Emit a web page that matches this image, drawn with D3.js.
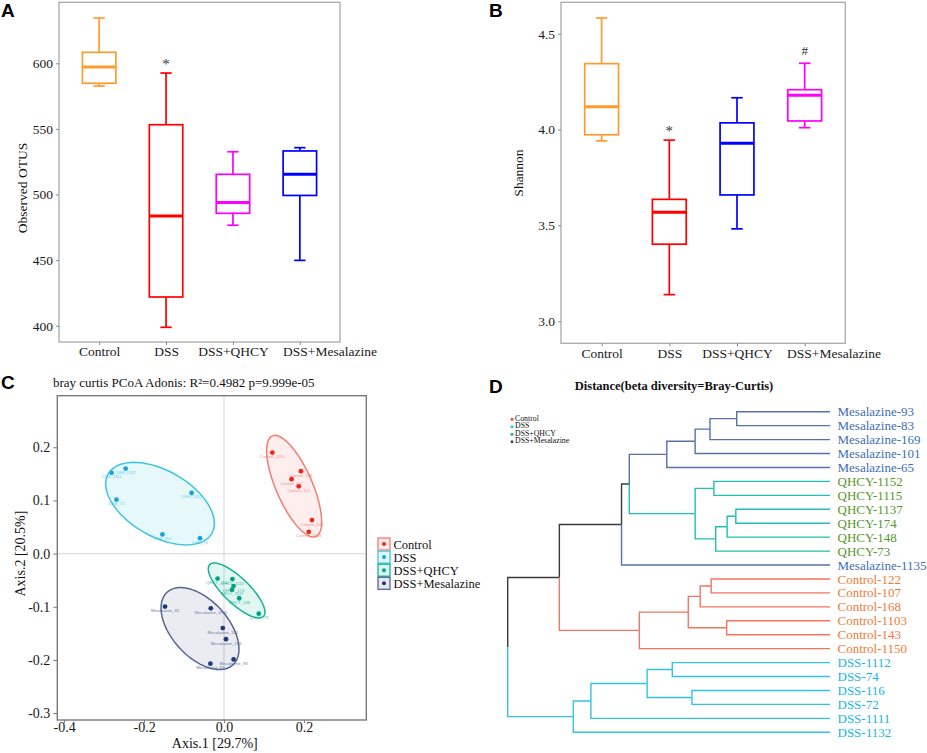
<!DOCTYPE html>
<html>
<head>
<meta charset="utf-8">
<script src="https://cdn.jsdelivr.net/npm/d3@7"></script>
<style>
  body { margin: 0; background: #fff; }
  svg { display: block; }
</style>
</head>
<body>
<svg id="fig" width="927" height="753"></svg>
<script>
// ---- data ----
const groups = ["Control", "DSS", "DSS+QHCY", "DSS+Mesalazine"];

// five-number summaries: [min, q1, median, q3, max]
const otuStats = [
  [582.7, 584.8, 597.2, 608.4, 634.5],
  [398.8, 421.9, 483.6, 553.2, 592.6],
  [476.6, 485.7, 493.9, 515.4, 532.6],
  [449.8, 499.3, 515.4, 533.2, 535.7]
];
const otuTicks = [400, 450, 500, 550, 600];
const otuMarks = ["", "*", "", ""];

const shannonStats = [
  [3.941, 3.973, 4.119, 4.344, 4.582],
  [3.139, 3.402, 3.569, 3.636, 3.945],
  [3.482, 3.659, 3.929, 4.035, 4.166],
  [4.010, 4.045, 4.179, 4.208, 4.346]
];
const shannonTicks = [3.0, 3.5, 4.0, 4.5];
const shannonMarks = ["", "*", "", "#"];

// PCoA coordinates [axis1, axis2, sample]
const pcoaControl = [
  [0.121, 0.190, "Control_1150"], [0.1925, 0.155, "Control_168"], [0.169, 0.140, "Control_107"],
  [0.187, 0.1265, "Control_122"], [0.220, 0.063, "Control_143"], [0.212, 0.041, "Control_1103"]
];
const pcoaDSS = [
  [-0.281, 0.152, "DSS_1111"], [-0.246, 0.160, "DSS_1132"], [-0.269, 0.1015, "DSS_72"],
  [-0.081, 0.114, "DSS_1112"], [-0.154, 0.036, "DSS_116"], [-0.060, 0.029, "DSS_74"]
];
const pcoaQHCY = [
  [-0.016, -0.047, "QHCY_1152"], [0.021, -0.048, "QHCY_1115"], [0.024, -0.061, "QHCY_174"],
  [0.020, -0.068, "QHCY_1137"], [0.038, -0.084, "QHCY_148"], [0.087, -0.113, "QHCY_73"]
];
const pcoaMes = [
  [-0.1475, -0.0996, "Mesalazine_65"], [-0.033, -0.103, "Mesalazine_1135"], [-0.003, -0.140, "Mesalazine_101"],
  [0.005, -0.161, "Mesalazine_169"], [0.024, -0.199, "Mesalazine_93"], [-0.034, -0.207, "Mesalazine_83"]
];
// ellipses: [centre x, centre y, half-width x, half-height y, correlation]
const ellipseParams = [
  [0.1755, 0.1268, 0.0688, 0.0956, -0.70],
  [-0.160, 0.094, 0.136, 0.0776, -0.48],
  [0.0316, -0.0694, 0.0709, 0.0517, -0.79],
  [-0.060, -0.141, 0.0975, 0.0771, -0.50]
];
const pcoaXTicks = [-0.4, -0.2, 0.0, 0.2];
const pcoaYTicks = [-0.3, -0.2, -0.1, 0.0, 0.1, 0.2];

// dendrogram (hclust style): strings are leaves, numbers point to earlier merges
const merges = [
  ["Mesalazine-93", "Mesalazine-83"],
  [0, "Mesalazine-169"],
  [1, "Mesalazine-101"],
  [2, "Mesalazine-65"],
  ["QHCY-1152", "QHCY-1115"],
  ["QHCY-1137", "QHCY-174"],
  [5, "QHCY-148"],
  [6, "QHCY-73"],
  [4, 7],
  [3, 8],
  [9, "Mesalazine-1135"],
  ["Control-122", "Control-107"],
  [11, "Control-168"],
  ["Control-1103", "Control-143"],
  [12, 13],
  [14, "Control-1150"],
  [10, 15],
  ["DSS-1112", "DSS-74"],
  ["DSS-116", "DSS-72"],
  [17, 18],
  [19, "DSS-1111"],
  [20, "DSS-1132"],
  [16, 21]
];
const mergeHeights = [0.204, 0.2625, 0.295, 0.357, 0.254, 0.206, 0.225, 0.250, 0.295, 0.439, 0.456,
  0.260, 0.284, 0.226, 0.310, 0.417, 0.592, 0.345, 0.302, 0.400, 0.523, 0.5615, 0.705];

// ---- styles ----
const serif = "'Liberation Serif','Times New Roman',serif";
const sans = "'Liberation Sans',Arial,sans-serif";
const otuColors = ["#FF9A2E", "#FF0000", "#FF00FF", "#0000FF"];
const shannonColors = ["#FF9A2E", "#FF0000", "#0000FF", "#FF00FF"];
const ellipseStroke = ["#F77B70", "#3CC6E0", "#12B393", "#55668F"];
const ellipseFill = ["#F8766D", "#3CC6E0", "#12B393", "#55668F"];
const pointColor = ["#F5231E", "#1BA3D6", "#00A383", "#1F3A78"];
const lineColor = { Mesalazine: "#5572A9", QHCY: "#22BFB2", Control: "#F47461", DSS: "#33C3E3" };
const labelColor = { Mesalazine: "#3E6DB5", QHCY: "#56982F", Control: "#F07C38", DSS: "#17B5E8" };

const svg = d3.select("#fig");

function panelLetter(t, x, y) {
  svg.append("text").attr("x", x).attr("y", y).text(t)
    .attr("font-family", sans).attr("font-weight", "bold").attr("font-size", 19).attr("fill", "#000");
}

// ---- box plots (A, B) ----
function boxPanel(p) {
  const g = svg.append("g");
  const x = d3.scalePoint().domain(groups).range([p.left, p.right]).padding(0.6);
  const y = d3.scaleLinear().domain(p.domain).range([p.bottom, p.top]);
  const bw = x.step() * 0.5;
  const cw = x.step() * 0.17;

  g.append("rect").attr("x", p.left).attr("y", p.top)
    .attr("width", p.right - p.left).attr("height", p.bottom - p.top)
    .attr("fill", "none").attr("stroke", "#a9a9a9").attr("stroke-width", 1.3);

  const ya = g.append("g").attr("transform", `translate(${p.left},0)`)
    .call(d3.axisLeft(y).tickValues(p.ticks).tickSize(3).tickFormat(p.fmt));
  ya.select(".domain").remove();
  const xa = g.append("g").attr("transform", `translate(0,${p.bottom})`)
    .call(d3.axisBottom(x).tickSize(3).tickPadding(p.xpad));
  xa.select(".domain").remove();
  [ya, xa].forEach(a => {
    a.attr("font-family", serif).attr("font-size", 13.5);
    a.selectAll("line").attr("stroke", "#8a8a8a");
    a.selectAll("text").attr("fill", "#1a1a1a");
  });
  // long category names are pushed right so they keep a gap from the previous one
  let prevEnd = -Infinity;
  xa.selectAll(".tick text").each(function (d) {
    const bb = this.getBBox();
    const left = x(d) + bb.x;
    const shift = Math.max(0, prevEnd + 14 - left);
    d3.select(this).attr("x", shift);
    prevEnd = left + shift + bb.width;
  });

  const box = g.selectAll(".box").data(p.stats).enter().append("g")
    .attr("stroke", (d, i) => p.colors[i]).attr("fill", "none").attr("stroke-width", 1.7);
  box.append("line")
    .attr("x1", (d, i) => x(groups[i])).attr("x2", (d, i) => x(groups[i]))
    .attr("y1", d => y(d[3])).attr("y2", d => y(d[4]));
  box.append("line")
    .attr("x1", (d, i) => x(groups[i])).attr("x2", (d, i) => x(groups[i]))
    .attr("y1", d => y(d[1])).attr("y2", d => y(d[0]));
  [0, 4].forEach(k => box.append("line")
    .attr("x1", (d, i) => x(groups[i]) - cw / 2).attr("x2", (d, i) => x(groups[i]) + cw / 2)
    .attr("y1", d => y(d[k])).attr("y2", d => y(d[k])));
  box.append("rect")
    .attr("x", (d, i) => x(groups[i]) - bw / 2).attr("width", bw)
    .attr("y", d => y(d[3])).attr("height", d => y(d[1]) - y(d[3]));
  box.append("line")
    .attr("x1", (d, i) => x(groups[i]) - bw / 2).attr("x2", (d, i) => x(groups[i]) + bw / 2)
    .attr("y1", d => y(d[2])).attr("y2", d => y(d[2])).attr("stroke-width", 3);

  g.selectAll(".mark").data(p.marks).enter().append("text")
    .attr("x", (d, i) => x(groups[i]))
    .attr("y", (d, i) => y(p.stats[i][4]) - (d === "*" ? 4 : 8))
    .attr("text-anchor", "middle").attr("font-family", serif)
    .attr("font-size", d => d === "*" ? 15 : 13)
    .attr("fill", "#333").text(d => d);

  g.append("text")
    .attr("transform", `translate(${p.ylabX},${p.ylabY}) rotate(-90)`)
    .attr("text-anchor", "middle").attr("font-family", serif).attr("font-size", 13.5)
    .attr("fill", "#111").text(p.ylabel);
}

boxPanel({
  left: 59, right: 340, top: 2.3, bottom: 342,
  domain: [387.6, 646.5], ticks: otuTicks, fmt: d3.format("d"), xpad: 1,
  stats: otuStats, colors: otuColors, marks: otuMarks,
  ylabel: "Observed OTUS", ylabX: 27, ylabY: 188
});
boxPanel({
  left: 561, right: 845.3, top: 2.3, bottom: 343.3,
  domain: [2.885, 4.664], ticks: shannonTicks, fmt: d3.format(".1f"), xpad: 2,
  stats: shannonStats, colors: shannonColors, marks: shannonMarks,
  ylabel: "Shannon", ylabX: 523, ylabY: 173
});
panelLetter("A", 1, 17);
panelLetter("B", 489, 17);

// ---- PCoA (C) ----
(function () {
  const g = svg.append("g");
  const L = 57.3, R = 366.3, T = 395.7, B = 720;
  const x = d3.scaleLinear().domain([-0.417, 0.356]).range([L, R]);
  const y = d3.scaleLinear().domain([-0.313, 0.297]).range([B, T]);
  const fmt = d => (Math.abs(d) < 1e-9 ? 0 : d).toFixed(1);

  g.append("line").attr("x1", L).attr("x2", R).attr("y1", y(0)).attr("y2", y(0))
    .attr("stroke", "#dcdcdc").attr("stroke-width", 1.2);
  g.append("line").attr("x1", x(0)).attr("x2", x(0)).attr("y1", T).attr("y2", B)
    .attr("stroke", "#dcdcdc").attr("stroke-width", 1.2);

  const sets = [pcoaControl, pcoaDSS, pcoaQHCY, pcoaMes];
  const ell = d3.line().x(d => x(d[0])).y(d => y(d[1]));
  ellipseParams.forEach((e, i) => {
    const phi = Math.acos(e[4]);
    const pts = d3.range(0, 101).map(k => {
      const t = k / 100 * 2 * Math.PI;
      return [e[0] + e[2] * Math.cos(t), e[1] + e[3] * Math.cos(t + phi)];
    });
    g.append("path").attr("d", ell(pts) + "Z")
      .attr("fill", ellipseFill[i]).attr("fill-opacity", 0.12)
      .attr("stroke", ellipseStroke[i]).attr("stroke-width", 1.5);
  });
  sets.forEach((s, i) => {
    g.selectAll(null).data(s).enter().append("text")
      .attr("x", d => x(d[0])).attr("y", d => y(d[1]) + 5.5)
      .attr("text-anchor", "middle").attr("font-family", sans).attr("font-size", 4.2)
      .attr("fill", ellipseStroke[i]).attr("fill-opacity", 0.9).text(d => d[2]);
    g.selectAll(null).data(s).enter().append("circle")
      .attr("cx", d => x(d[0])).attr("cy", d => y(d[1])).attr("r", 2.4)
      .attr("fill", pointColor[i]);
  });

  g.append("rect").attr("x", L).attr("y", T).attr("width", R - L).attr("height", B - T)
    .attr("fill", "none").attr("stroke", "#7a7a7a").attr("stroke-width", 1.4);

  const ya = g.append("g").attr("transform", `translate(${L},0)`)
    .call(d3.axisLeft(y).tickValues(pcoaYTicks).tickSize(4).tickPadding(3).tickFormat(fmt));
  const xa = g.append("g").attr("transform", `translate(0,${B})`)
    .call(d3.axisBottom(x).tickValues(pcoaXTicks).tickSize(3).tickPadding(-1).tickFormat(fmt));
  [ya, xa].forEach(a => {
    a.select(".domain").remove();
    a.attr("font-family", serif).attr("font-size", 14);
    a.selectAll("line").attr("stroke", "#7a7a7a");
    a.selectAll("text").attr("fill", "#1a1a1a");
  });

  g.append("text").attr("x", (L + R) / 2 + 3).attr("y", 748).attr("text-anchor", "middle")
    .attr("font-family", serif).attr("font-size", 14).attr("fill", "#111").text("Axis.1 [29.7%]");
  g.append("text").attr("transform", `translate(25,${y(0)}) rotate(-90)`).attr("text-anchor", "middle")
    .attr("font-family", serif).attr("font-size", 14).attr("fill", "#111").text("Axis.2 [20.5%]");
  g.append("text").attr("x", 53).attr("y", 387)
    .attr("font-family", serif).attr("font-size", 13).attr("fill", "#111")
    .text("bray curtis PCoA Adonis: R\u00B2=0.4982 p=9.999e-05");

  // legend
  const lg = g.append("g").attr("transform", "translate(378,538)");
  const row = lg.selectAll(".row").data(groups).enter().append("g")
    .attr("transform", (d, i) => `translate(0,${i * 13.1})`);
  row.append("rect").attr("width", 12).attr("height", 12)
    .attr("fill", (d, i) => ellipseFill[i]).attr("fill-opacity", 0.15)
    .attr("stroke", (d, i) => ellipseStroke[i]).attr("stroke-width", 1.3);
  row.append("circle").attr("cx", 6).attr("cy", 6).attr("r", 2)
    .attr("fill", (d, i) => pointColor[i]);
  row.append("text").attr("x", 15.5).attr("y", 10.5)
    .attr("font-family", serif).attr("font-size", 12.5).attr("fill", "#111").text(d => d);
})();
panelLetter("C", 1, 389);

// ---- dendrogram (D) ----
(function () {
  const g = svg.append("g");
  function build(ref) {
    if (typeof ref === "string") return { name: ref, height: 0 };
    return { height: mergeHeights[ref], children: merges[ref].map(build) };
  }
  const root = d3.hierarchy(build(merges.length - 1));
  const leaves = root.leaves().map(d => d.data.name);
  const yLeaf = d3.scalePoint().domain(leaves).range([411.7, 732.3]);
  const xH = d3.scaleLinear().domain([0, 0.705]).range([830, 507.7]);
  const grp = n => n.split("-")[0];

  root.eachAfter(n => {
    n.px = xH(n.data.height);
    if (n.children) {
      n.py = d3.mean(n.children, c => c.py);
      const gs = new Set(n.children.map(c => c.grp));
      n.grp = gs.size === 1 ? [...gs][0] : null;
    } else {
      n.py = yLeaf(n.data.name);
      n.grp = grp(n.data.name);
    }
  });

  const segs = [];
  root.each(n => { if (n.children) n.children.forEach(c => segs.push([n, c])); });
  g.selectAll(".seg").data(segs).enter().append("path")
    .attr("d", d => `M${d[0].px},${d[0].py}V${d[1].py}H${d[1].px}`)
    .attr("fill", "none").attr("stroke-width", 1.4)
    .attr("stroke", d => d[1].grp ? lineColor[d[1].grp] : "#3a3a3a");

  g.selectAll(".lab").data(root.leaves()).enter().append("text")
    .attr("x", 837.5).attr("y", d => d.py).attr("dy", "0.35em")
    .attr("font-family", serif).attr("font-size", 13)
    .attr("fill", d => labelColor[d.grp]).text(d => d.data.name);

  g.append("text").attr("x", 674).attr("y", 390).attr("text-anchor", "middle")
    .attr("font-family", serif).attr("font-weight", "bold").attr("font-size", 12.5)
    .attr("fill", "#111").text("Distance(beta diversity=Bray-Curtis)");

  const legColors = ["#F24B3C", "#1FBFE5", "#13B497", "#2C4A8A"];
  const lg = g.selectAll(".leg").data(groups).enter().append("g")
    .attr("transform", (d, i) => `translate(512,${418 + i * 7.5})`);
  lg.append("circle").attr("cx", 0).attr("cy", 1.2).attr("r", 1.5).attr("fill", (d, i) => legColors[i]);
  lg.append("text").attr("x", 3).attr("y", 0).attr("dy", "0.35em")
    .attr("font-family", serif).attr("font-size", 7.8).attr("fill", "#111").text(d => d);
})();
panelLetter("D", 489, 393);
</script>
</body>
</html>
